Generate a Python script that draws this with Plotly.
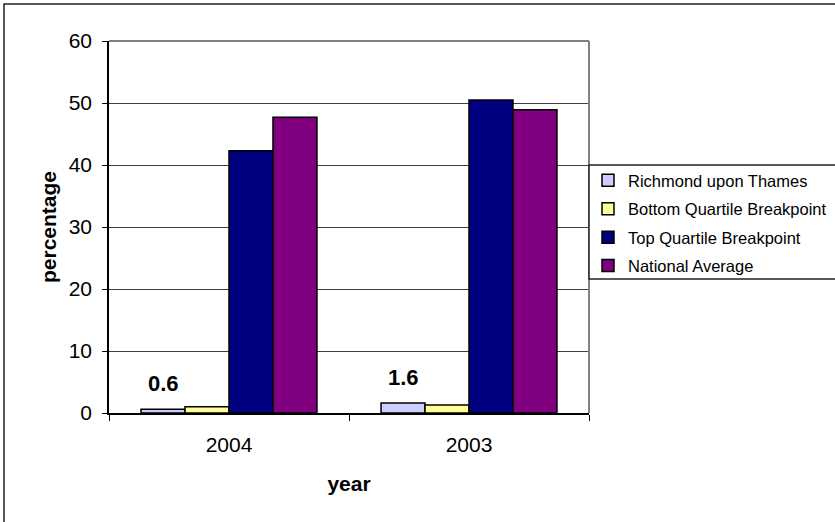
import plotly.graph_objects as go

years = ["2004", "2003"]
series_names = ["Richmond upon Thames", "Bottom Quartile Breakpoint",
                "Top Quartile Breakpoint", "National Average"]
richmond = [0.6, 1.6]
bottom_q = [1.0, 1.3]
top_q = [42.3, 50.5]
national = [47.7, 48.9]
colors = ["#CCCCFF", "#FFFF99", "#000080", "#800080"]
y_ticks = [0, 10, 20, 30, 40, 50, 60]

FONT = "Liberation Sans, Arial, sans-serif"

W, H = 835, 522
L, R, T, B = 109, 589, 41, 413  # plot area in px
pw, ph = R - L, B - T
BARGAP = 0.267
N_SERIES = len(series_names)

def px_x(x):
    return (x - L) / pw

def px_y(y):
    return (B - y) / ph

fig = go.Figure()
all_vals = [richmond, bottom_q, top_q, national]
for i, (name, vals, col) in enumerate(zip(series_names, all_vals, colors)):
    fig.add_trace(go.Bar(
        x=list(range(len(years))), y=vals, name=name, legendgroup=name,
        marker=dict(color=col, line=dict(color="black", width=1.5)),
        hoverinfo="skip"))

# data labels for the first series, placed over its bars via the axis scale
group_w = 1 - BARGAP
bar_w = group_w / N_SERIES
annotations = []
for j, v in enumerate(richmond):
    annotations.append(dict(
        x=j - group_w / 2 + bar_w / 2, y=v, xref="x", yref="y",
        text=f"<b>{v}</b>", showarrow=False, yanchor="middle", yshift=26,
        font=dict(family=FONT, size=22, color="black")))

fig.update_layout(
    width=W, height=H,
    margin=dict(l=L, r=W - R, t=T, b=H - B, autoexpand=False),
    paper_bgcolor="white", plot_bgcolor="white",
    barmode="group", bargap=BARGAP, bargroupgap=0,
    font=dict(family=FONT, size=21, color="black"),
    showlegend=True,
    annotations=annotations,
    legend=dict(
        x=px_x(588), y=px_y(163), xanchor="left", yanchor="top",
        bgcolor="rgba(0,0,0,0)", borderwidth=0,
        font=dict(family=FONT, size=16.5, color="black"),
        traceorder="grouped", tracegroupgap=4,
    ),
    xaxis=dict(
        range=[-0.5, len(years) - 0.5],
        tickvals=list(range(len(years))), ticktext=years,
        showgrid=False,
        showline=True, linecolor="black", linewidth=1.5,
        ticks="", ticklabelstandoff=12,
        tickfont=dict(family=FONT, size=21),
        minor=dict(tickvals=[k - 0.5 for k in range(len(years) + 1)],
                   ticks="outside", ticklen=6, tickcolor="black", showgrid=False),
        title=dict(text="<b>year</b>", font=dict(family=FONT, size=21), standoff=21),
    ),
    yaxis=dict(
        range=[0, 60], tickvals=y_ticks, showgrid=True,
        gridcolor="#404040", gridwidth=1,
        showline=True, linecolor="black", linewidth=1.5,
        ticks="outside", ticklen=5, tickcolor="black",
        tickfont=dict(family=FONT, size=21), ticklabelstandoff=6,
        zeroline=False,
        title=dict(text="<b>percentage</b>", font=dict(family=FONT, size=21), standoff=6),
    ),
    shapes=[
        dict(type="line", xref="paper", yref="paper", x0=0, x1=1, y0=1, y1=1,
             line=dict(color="#808080", width=2), layer="above"),
        dict(type="line", xref="paper", yref="paper", x0=1, x1=1, y0=0, y1=1,
             line=dict(color="#808080", width=2), layer="above"),
        dict(type="rect", xref="paper", yref="paper",
             x0=px_x(589), x1=px_x(845), y0=px_y(279), y1=px_y(165),
             line=dict(color="#222222", width=1.5), fillcolor="white", layer="above"),
        dict(type="rect", xref="paper", yref="paper",
             x0=px_x(4), x1=px_x(850), y0=px_y(540), y1=px_y(4),
             line=dict(color="#222222", width=1.5), layer="above"),
    ],
)

fig.write_html("out.html")
